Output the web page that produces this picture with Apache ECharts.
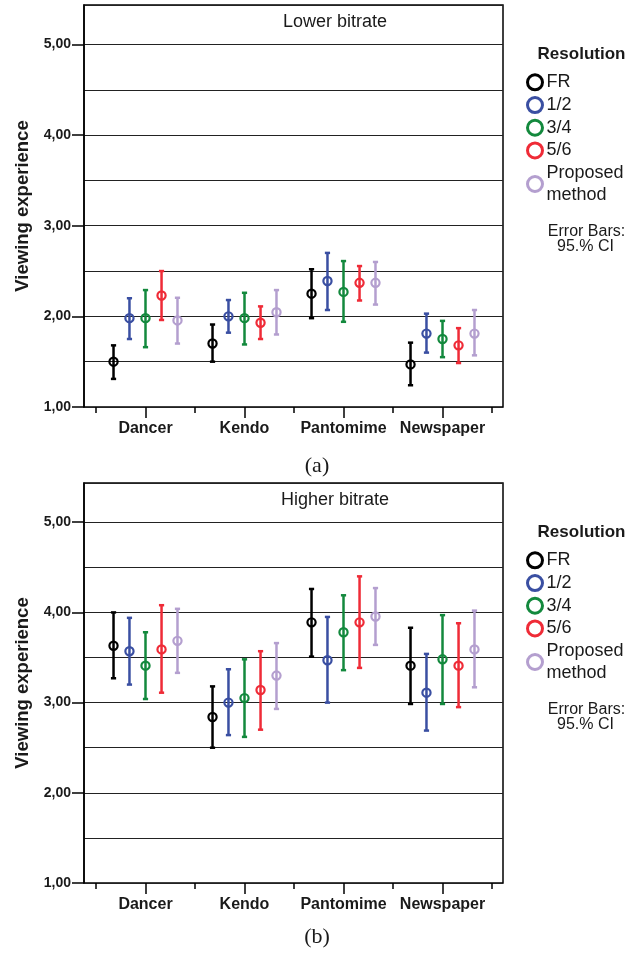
<!DOCTYPE html>
<html>
<head>
<meta charset="utf-8">
<script src="https://cdn.jsdelivr.net/npm/echarts@6/dist/echarts.min.js"></script>
<style>
html,body{margin:0;padding:0;background:#fff;}
#chart{width:636px;height:953px;}
</style>
</head>
<body>
<div id="chart"></div>
<script>
// ---- data ----
const categories = ['Dancer', 'Kendo', 'Pantomime', 'Newspaper'];
const seriesNames = ['FR', '1/2', '3/4', '5/6', 'Proposed method'];
const colors = ['#000000', '#3a4fa2', '#13893d', '#ef2b37', '#b49fcf'];
const yTicks = [1, 2, 3, 4, 5];
const panelTitles = ['Lower bitrate', 'Higher bitrate'];
const panelLabels = ['(a)', '(b)'];

// each entry: [mean, lower 95% CI, upper 95% CI] per category
const lowerFR       = [[1.50, 1.31, 1.68], [1.70, 1.50, 1.91], [2.25, 1.98, 2.52], [1.47, 1.24, 1.71]];
const lowerHalf     = [[1.98, 1.75, 2.20], [2.00, 1.82, 2.18], [2.39, 2.07, 2.70], [1.81, 1.60, 2.03]];
const lowerThreeQ   = [[1.98, 1.66, 2.29], [1.98, 1.69, 2.26], [2.27, 1.94, 2.61], [1.75, 1.55, 1.95]];
const lowerFiveSix  = [[2.23, 1.96, 2.50], [1.93, 1.75, 2.11], [2.37, 2.175, 2.555], [1.68, 1.485, 1.87]];
const lowerProposed = [[1.955, 1.70, 2.205], [2.045, 1.80, 2.29], [2.37, 2.13, 2.60], [1.81, 1.57, 2.07]];

const higherFR       = [[3.63, 3.27, 4.00], [2.84, 2.50, 3.18], [3.89, 3.51, 4.26], [3.41, 2.985, 3.83]];
const higherHalf     = [[3.57, 3.20, 3.94], [3.00, 2.64, 3.37], [3.47, 3.00, 3.95], [3.11, 2.69, 3.54]];
const higherThreeQ   = [[3.41, 3.04, 3.78], [3.05, 2.62, 3.48], [3.78, 3.36, 4.19], [3.48, 2.985, 3.97]];
const higherFiveSix  = [[3.59, 3.11, 4.08], [3.14, 2.70, 3.57], [3.89, 3.385, 4.40], [3.41, 2.95, 3.88]];
const higherProposed = [[3.685, 3.33, 4.04], [3.30, 2.93, 3.66], [3.955, 3.64, 4.27], [3.59, 3.17, 4.02]];

const panels = [
  [lowerFR, lowerHalf, lowerThreeQ, lowerFiveSix, lowerProposed],
  [higherFR, higherHalf, higherThreeQ, higherFiveSix, higherProposed]
];

// ---- layout ----
const FONT = 'Liberation Sans, Arial, sans-serif';
const dodge = [-0.323, -0.162, 0, 0.162, 0.323];
const gridTops = [5, 483];
const gridHeights = [402, 400];
const xMin = -0.6212, xMax = 3.611;
const yMin = 1, yMax = 5.435;

const grids = [], xAxes = [], yAxes = [], series = [], legends = [], graphics = [];

panels.forEach((panel, p) => {
  grids.push({
    left: 84, width: 419, top: gridTops[p], height: gridHeights[p],
    show: true, borderColor: '#000', borderWidth: 1.5, backgroundColor: 'transparent'
  });
  // boundary ticks (short)
  xAxes.push({
    type: 'value', gridIndex: p, min: xMin, max: xMax, position: 'bottom',
    axisLine: { show: false }, splitLine: { show: false },
    axisTick: { show: true, length: 6, customValues: [-0.5, 0.5, 1.5, 2.5, 3.5], lineStyle: { color: '#000', width: 1.5 } },
    axisLabel: { show: false }
  });
  // category centre ticks (long) + labels
  xAxes.push({
    type: 'value', gridIndex: p, min: xMin, max: xMax, position: 'bottom',
    axisLine: { show: false }, splitLine: { show: false },
    axisTick: { show: true, length: 11, customValues: [0, 1, 2, 3], lineStyle: { color: '#000', width: 1.5 } },
    axisLabel: {
      show: true, customValues: [0, 1, 2, 3], formatter: v => categories[Math.round(v)],
      fontFamily: FONT, fontWeight: 'bold', fontSize: 16, color: '#1a1a1a', margin: 14
    }
  });
  yAxes.push({
    type: 'value', gridIndex: p, min: yMin, max: yMax, interval: 0.5, position: 'left',
    axisLine: { show: true, onZero: false, lineStyle: { color: '#000', width: 1.5 } },
    axisTick: { show: true, length: 12, customValues: yTicks, lineStyle: { color: '#000', width: 1.5 } },
    axisLabel: {
      show: true, customValues: yTicks, formatter: v => v.toFixed(2).replace('.', ','),
      fontFamily: FONT, fontWeight: 'bold', fontSize: 14, color: '#1a1a1a', margin: 13
    },
    splitLine: { show: false },
    name: 'Viewing experience', nameLocation: 'middle', nameGap: 50,
    nameTextStyle: { fontFamily: FONT, fontWeight: 'bold', fontSize: 18.5, color: '#1a1a1a' }
  });

  panel.forEach((arr, s) => {
    series.push({
      type: 'custom', name: seriesNames[s],
      xAxisIndex: p * 2, yAxisIndex: p,
      itemStyle: { color: colors[s] },
      encode: { x: 0, y: [1, 2, 3] },
      data: arr.map((d, c) => [c + dodge[s], d[0], d[1], d[2]]),
      renderItem: (params, api) => {
        const x = api.value(0);
        const pm = api.coord([x, api.value(1)]);
        const pl = api.coord([x, api.value(2)]);
        const ph = api.coord([x, api.value(3)]);
        const col = colors[s];
        const lw = 2.5, cap = 2.6;
        return {
          type: 'group',
          children: [
            { type: 'line', shape: { x1: pl[0], y1: pl[1], x2: ph[0], y2: ph[1] }, style: { stroke: col, lineWidth: lw } },
            { type: 'line', shape: { x1: ph[0] - cap, y1: ph[1], x2: ph[0] + cap, y2: ph[1] }, style: { stroke: col, lineWidth: 2.5 } },
            { type: 'line', shape: { x1: pl[0] - cap, y1: pl[1], x2: pl[0] + cap, y2: pl[1] }, style: { stroke: col, lineWidth: 2.5 } },
            { type: 'circle', shape: { cx: pm[0], cy: pm[1], r: 4.1 }, style: { stroke: col, fill: 'rgba(255,255,255,0)', lineWidth: 2.2 } }
          ]
        };
      }
    });
  });

  const off = p === 0 ? 0 : 478;
  legends.push({
    orient: 'vertical', left: 526, top: 71.5 + off, padding: 0,
    itemWidth: 15, itemHeight: 15, itemGap: 1,
    data: seriesNames.map((n, i) => ({
      name: n, icon: 'circle',
      itemStyle: { color: 'rgba(255,255,255,0)', borderColor: colors[i], borderWidth: 3 }
    })),
    formatter: n => n === 'Proposed method' ? 'Proposed\nmethod' : n,
    textStyle: { fontFamily: FONT, fontSize: 18, lineHeight: 21.7, color: '#1a1a1a', padding: [0, 0, 0, -1] },
    selectedMode: false
  });

  graphics.push(
    { type: 'text', x: 335, y: 22 + off, style: { text: panelTitles[p], textAlign: 'center', textVerticalAlign: 'middle', font: '18px ' + FONT, fill: '#1a1a1a' } },
    { type: 'text', x: 581.5, y: 54 + off, style: { text: 'Resolution', textAlign: 'center', textVerticalAlign: 'middle', font: 'bold 17px ' + FONT, fill: '#1a1a1a' } },
    { type: 'text', x: 586.5, y: 232 + off, style: { text: 'Error Bars:', textAlign: 'center', textVerticalAlign: 'middle', font: '16px ' + FONT, fill: '#1a1a1a' } },
    { type: 'text', x: 585.5, y: 247 + off, style: { text: '95.% CI', textAlign: 'center', textVerticalAlign: 'middle', font: '16px ' + FONT, fill: '#1a1a1a' } },
    { type: 'text', x: 317, y: p === 0 ? 466 : 937.5, style: { text: panelLabels[p], textAlign: 'center', textVerticalAlign: 'middle', font: '22px Liberation Serif, Times New Roman, serif', fill: '#1a1a1a' } }
  );
});

// gridline-only y axes (every 0.5)
panels.forEach((panel, p) => {
  yAxes.push({
    type: 'value', gridIndex: p, min: yMin, max: yMax, interval: 0.5, position: 'left',
    axisLine: { show: false }, axisTick: { show: false }, axisLabel: { show: false },
    splitLine: { show: true, lineStyle: { color: '#222', width: 1 } }
  });
});

const chart = echarts.init(document.getElementById('chart'), null, { renderer: 'canvas' });
chart.setOption({
  animation: false,
  backgroundColor: '#fff',
  grid: grids,
  xAxis: xAxes,
  yAxis: yAxes,
  legend: legends,
  series: series,
  graphic: graphics
});
</script>
</body>
</html>
